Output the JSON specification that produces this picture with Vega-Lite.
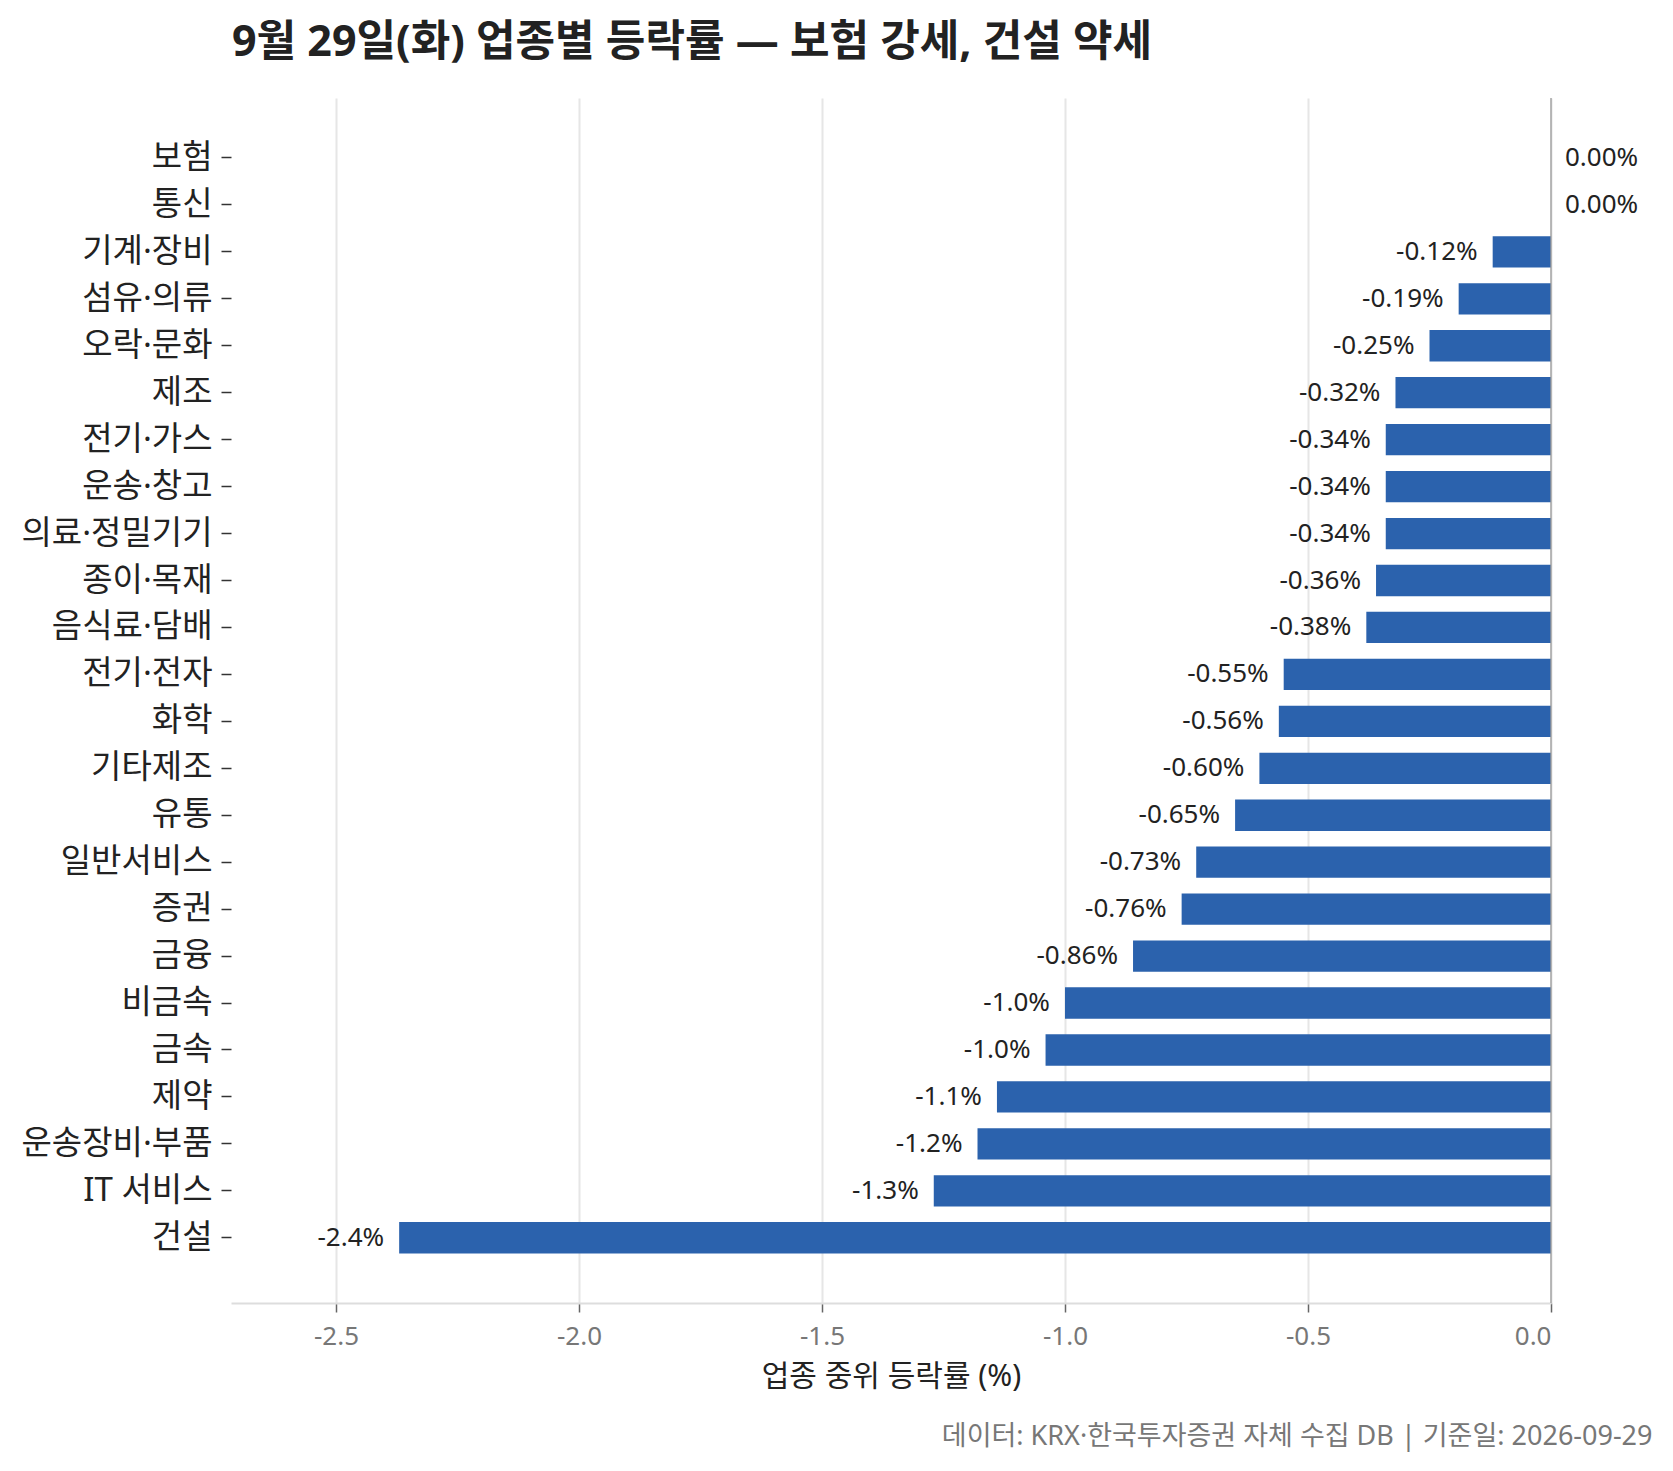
{
  "$schema": "https://vega.github.io/schema/vega-lite/v6.json",
  "width": 1320,
  "height": 1205,
  "autosize": "none",
  "padding": {"left": 231, "top": 98, "right": 122, "bottom": 168},
  "background": "white",
  "config": {"view": {"stroke": null}},
  "title": {
    "text": "9월 29일(화) 업종별 등락률 — 보험 강세, 건설 약세",
    "anchor": "start",
    "frame": "group",
    "font": "Noto Sans, Noto Sans CJK KR",
    "fontSize": 43,
    "fontWeight": "bold",
    "color": "#222222",
    "baseline": "alphabetic",
    "offset": -2,
    "dx": 1
  },
  "data": {
    "values": [
      {"sector": "보험", "value": 0.0, "label": "0.00%"},
      {"sector": "통신", "value": 0.0, "label": "0.00%"},
      {"sector": "기계·장비", "value": -0.12, "label": "-0.12%"},
      {"sector": "섬유·의류", "value": -0.19, "label": "-0.19%"},
      {"sector": "오락·문화", "value": -0.25, "label": "-0.25%"},
      {"sector": "제조", "value": -0.32, "label": "-0.32%"},
      {"sector": "전기·가스", "value": -0.34, "label": "-0.34%"},
      {"sector": "운송·창고", "value": -0.34, "label": "-0.34%"},
      {"sector": "의료·정밀기기", "value": -0.34, "label": "-0.34%"},
      {"sector": "종이·목재", "value": -0.36, "label": "-0.36%"},
      {"sector": "음식료·담배", "value": -0.38, "label": "-0.38%"},
      {"sector": "전기·전자", "value": -0.55, "label": "-0.55%"},
      {"sector": "화학", "value": -0.56, "label": "-0.56%"},
      {"sector": "기타제조", "value": -0.60, "label": "-0.60%"},
      {"sector": "유통", "value": -0.65, "label": "-0.65%"},
      {"sector": "일반서비스", "value": -0.73, "label": "-0.73%"},
      {"sector": "증권", "value": -0.76, "label": "-0.76%"},
      {"sector": "금융", "value": -0.86, "label": "-0.86%"},
      {"sector": "비금속", "value": -1.00, "label": "-1.0%"},
      {"sector": "금속", "value": -1.04, "label": "-1.0%"},
      {"sector": "제약", "value": -1.14, "label": "-1.1%"},
      {"sector": "운송장비·부품", "value": -1.18, "label": "-1.2%"},
      {"sector": "IT 서비스", "value": -1.27, "label": "-1.3%"},
      {"sector": "건설", "value": -2.37, "label": "-2.4%"}
    ]
  },
  "layer": [
    {
      "mark": {"type": "bar", "color": "#2b62ad"},
      "encoding": {
        "y": {
          "field": "sector", "type": "nominal", "sort": null,
          "scale": {"paddingInner": 0.333, "paddingOuter": 1.122, "align": 0.472},
          "axis": {
            "domain": false, "grid": false,
            "ticks": true, "tickColor": "#333333", "tickSize": 10, "tickWidth": 1.5,
            "labelPadding": 9, "labelFont": "Noto Sans, Noto Sans CJK KR",
            "labelFontSize": 33, "labelColor": "#222222", "labelLimit": 400,
            "title": "데이터: KRX·한국투자증권 자체 수집 DB  |  기준일: 2026-09-29",
            "titleFont": "Noto Sans, Noto Sans CJK KR",
            "titleFontSize": 27, "titleFontWeight": "normal", "titleColor": "#777777",
            "titleAngle": 0, "titleAnchor": null, "titleAlign": "right", "titleBaseline": "middle",
            "titleX": 1421, "titleY": 1338
          }
        },
        "x": {
          "field": "value", "type": "quantitative",
          "scale": {"domain": [-2.716, 0], "nice": false, "zero": true},
          "axis": {
            "values": [-2.5, -2.0, -1.5, -1.0, -0.5, 0.0],
            "format": ".1f",
            "labelExpr": "replace(datum.label, '−', '-')",
            "title": "업종 중위 등락률 (%)",
            "titleFont": "Noto Sans, Noto Sans CJK KR",
            "titleFontSize": 30, "titleFontWeight": "normal", "titleColor": "#222222",
            "titleBaseline": "middle", "titleY": 73,
            "grid": true, "gridColor": "#e6e6e6", "gridWidth": 2,
            "domain": true, "domainColor": "#dddddd", "domainWidth": 2,
            "ticks": true, "tickColor": "#666666", "tickSize": 9, "tickWidth": 1.5,
            "labelFont": "Noto Sans", "labelFontSize": 26, "labelColor": "#777777",
            "labelPadding": 11
          }
        }
      }
    },
    {
      "data": {"values": [{"ref": 0}]},
      "mark": {"type": "rule", "color": "#9a9a9a", "strokeWidth": 1.3},
      "encoding": {
        "x": {"field": "ref", "type": "quantitative"}
      }
    },
    {
      "transform": [{"filter": "datum.value < 0"}],
      "mark": {"type": "text", "align": "right", "baseline": "middle", "dx": -15,
               "font": "Noto Sans", "fontSize": 26, "color": "#222222"},
      "encoding": {
        "y": {"field": "sector", "type": "nominal", "sort": null},
        "x": {"field": "value", "type": "quantitative"},
        "text": {"field": "label"}
      }
    },
    {
      "transform": [{"filter": "datum.value >= 0"}],
      "mark": {"type": "text", "align": "left", "baseline": "middle", "dx": 14,
               "font": "Noto Sans", "fontSize": 26, "color": "#222222"},
      "encoding": {
        "y": {"field": "sector", "type": "nominal", "sort": null},
        "x": {"field": "value", "type": "quantitative"},
        "text": {"field": "label"}
      }
    }
  ]
}
